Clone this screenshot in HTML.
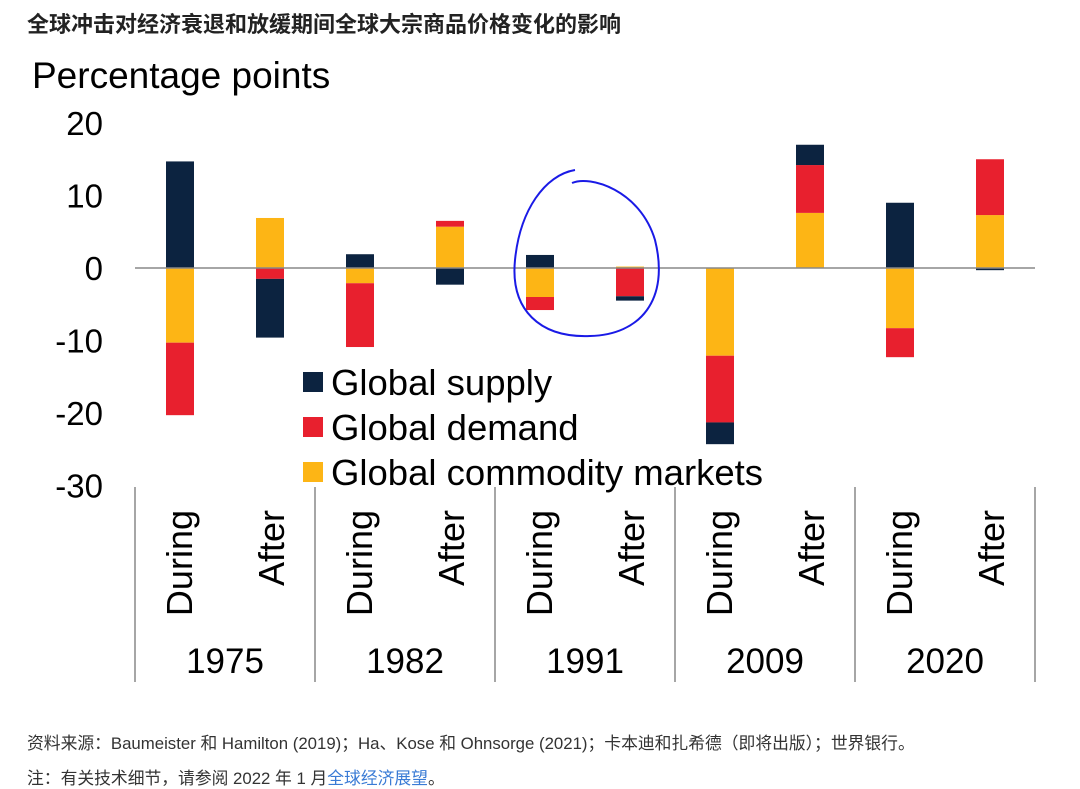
<!DOCTYPE html>
<html><head><meta charset="utf-8">
<style>
body{margin:0;background:#fff;width:1080px;height:788px;overflow:hidden;font-family:"Liberation Sans","Noto Sans CJK SC",sans-serif;}
#title{position:absolute;left:27px;top:7px;font-size:22px;font-weight:bold;color:#222;}
.foot{position:absolute;left:27px;font-size:16.8px;color:#333;}
a{color:#3a7bd5;text-decoration:none;}
svg{position:absolute;left:0;top:0;}
</style></head><body>
<div id="title">全球冲击对经济衰退和放缓期间全球大宗商品价格变化的影响</div>
<svg id="chart" width="1080" height="720"></svg>
<div class="foot" style="top:730px">资料来源：Baumeister 和 Hamilton (2019)；Ha、Kose 和 Ohnsorge (2021)；卡本迪和扎希德（即将出版）；世界银行。</div>
<div class="foot" style="top:765px">注：有关技术细节，请参阅 2022 年 1 月<a href="#">全球经济展望</a>。</div>
<script>
const years=["1975","1982","1991","2009","2020"];
const phases=["During","After"];
const supply=[14.7,-8.1,1.9,-2.3,1.8,-0.6,-3.0,2.8,9.0,-0.3];
const demand=[-10.0,-1.5,-8.8,0.8,-1.8,-3.9,-9.2,6.6,-4.0,7.7];
const commodity=[-10.3,6.9,-2.1,5.7,-4.0,0.2,-12.1,7.6,-8.3,7.3];
const yTicks=[20,10,0,-10,-20,-30];
const NS="http://www.w3.org/2000/svg";
const svg=document.getElementById('chart');
const x0=135,slot=90,bw=28;
const y=v=>268-v*7.25;
const xc=i=>x0+slot*i+slot/2;
function mk(t,a,txt){const e=document.createElementNS(NS,t);for(const k in a)e.setAttribute(k,a[k]);if(txt!=null)e.textContent=txt;svg.appendChild(e);return e;}
yTicks.forEach(t=>{const e=mk('text',{x:103,y:y(t)+12,'text-anchor':'end','font-size':33,fill:'#000'},t);

});
const yl=mk('text',{x:32,y:88,'font-size':37,fill:'#000'},'Percentage points');


const series=[[commodity,'#fdb515','commodity'],[demand,'#e8202e','demand'],[supply,'#0c2340','supply']];
for(let i=0;i<10;i++){
  let pos=0,neg=0;
  series.forEach(([arr,col,nm])=>{
    const v=arr[i];let a,b;
    if(v>=0){a=pos;b=pos+v;pos=b;}else{a=neg;b=neg+v;neg=b;}
    const r=mk('rect',{x:xc(i)-bw/2,y:Math.min(y(a),y(b)),width:bw,height:Math.abs(y(a)-y(b)),fill:col});
    
    
  });
}
const zl=mk('line',{x1:135,x2:1035,y1:y(0),y2:y(0),stroke:'#888','stroke-width':1.5});


for(let k=0;k<=5;k++){const l=mk('line',{x1:x0+k*180,x2:x0+k*180,y1:487,y2:682,stroke:'#888','stroke-width':1.5});

}
for(let i=0;i<10;i++){const cx=xc(i)+(i%2?14:12);
const t=mk('text',{x:cx,y:510,'text-anchor':'end','font-size':36,fill:'#000',transform:`rotate(-90 ${cx} 510)`},phases[i%2]);

}
years.forEach((yr,k)=>{const t=mk('text',{x:x0+k*180+90,y:673,'text-anchor':'middle','font-size':35,fill:'#000'},yr);

});
[['Global supply','#0c2340'],['Global demand','#e8202e'],['Global commodity markets','#fdb515']].forEach(([n,c],j)=>{
  const r=mk('rect',{x:303,y:372+j*45,width:20,height:20,fill:c});
  
  
  const t=mk('text',{x:331,y:395+j*45,'font-size':36.5,fill:'#000'},n);
  
  
});
const c=mk('path',{d:'M572,183 C590,175 640,190 655,240 C670,300 640,335 590,336 C540,338 510,310 515,260 C520,210 545,175 575,170',fill:'none',stroke:'#1a1ae6','stroke-width':2});


</script>
</body></html>
